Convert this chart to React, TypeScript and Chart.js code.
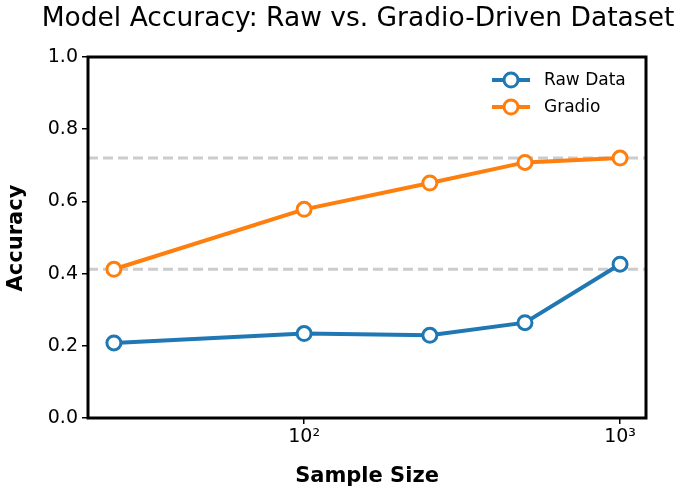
import React, { useEffect, useRef } from "react";
import { Chart, registerables } from "chart.js";
Chart.register(...registerables);

const sampleSizes = [25, 100, 250, 500, 1000];
const rawData = [0.208, 0.234, 0.229, 0.264, 0.426];
const gradioData = [0.412, 0.578, 0.651, 0.708, 0.72];
const refLines = [0.412, 0.72];
const xTickValues = [100, 1000];
const xTickLabels = ["10²", "10³"];
const BLUE = "#1f77b4";
const ORANGE = "#ff7f0e";
const FONT = "'DejaVu Sans', sans-serif";

const deco = {
  id: "deco",
  beforeDatasetsDraw(chart: any) {
    const { ctx, chartArea: a, scales } = chart;
    ctx.save();
    ctx.strokeStyle = "#cccccc";
    ctx.lineWidth = 3;
    ctx.setLineDash([10, 5]);
    refLines.forEach((v) => {
      const y = scales.y.getPixelForValue(v);
      ctx.beginPath();
      ctx.moveTo(a.left, y);
      ctx.lineTo(a.right, y);
      ctx.stroke();
    });
    ctx.restore();
  },
  afterDraw(chart: any) {
    const { ctx, chartArea: a } = chart;
    ctx.save();
    ctx.strokeStyle = "#000";
    ctx.lineWidth = 3;
    ctx.strokeRect(a.left, a.top, a.right - a.left, a.bottom - a.top);
    ctx.fillStyle = "#000";
    ctx.textAlign = "center";
    ctx.textBaseline = "middle";
    ctx.font = `26.5px ${FONT}`;
    ctx.fillText("Model Accuracy: Raw vs. Gradio-Driven Dataset", 358, 19);
    ctx.font = `bold 21px ${FONT}`;
    ctx.fillText("Sample Size", 367, 477);
    ctx.save();
    ctx.translate(17, 238);
    ctx.rotate(-Math.PI / 2);
    ctx.fillText("Accuracy", 0, 0);
    ctx.restore();
    const items = [
      { label: "Raw Data", color: BLUE },
      { label: "Gradio", color: ORANGE },
    ];
    ctx.font = `17px ${FONT}`;
    ctx.textAlign = "left";
    items.forEach((it, i) => {
      const y = 80 + i * 27;
      ctx.strokeStyle = it.color;
      ctx.lineWidth = 4;
      ctx.beginPath();
      ctx.moveTo(492, y);
      ctx.lineTo(530, y);
      ctx.stroke();
      ctx.beginPath();
      ctx.arc(511, y, 7, 0, Math.PI * 2);
      ctx.fillStyle = "#fff";
      ctx.fill();
      ctx.lineWidth = 3;
      ctx.stroke();
      ctx.fillStyle = "#000";
      ctx.fillText(it.label, 544, y + 1);
    });
    ctx.restore();
  },
};

export default function App() {
  const ref = useRef<HTMLCanvasElement>(null);
  useEffect(() => {
    const ds = (label: string, data: number[], color: string) => ({
      label,
      data: data.map((y, i) => ({ x: sampleSizes[i], y })),
      borderColor: color,
      backgroundColor: "#fff",
      borderWidth: 4,
      pointRadius: 7,
      pointBorderWidth: 3,
      pointBackgroundColor: "#fff",
      pointBorderColor: color,
    });
    const chart = new Chart(ref.current!, {
      type: "line",
      data: { datasets: [ds("Raw Data", rawData, BLUE), ds("Gradio", gradioData, ORANGE)] },
      options: {
        animation: false,
        responsive: false,
        layout: { padding: { top: 57, right: 38, left: 0, bottom: 0 } },
        plugins: { legend: { display: false }, title: { display: false }, tooltip: { enabled: false } },
        scales: {
          x: {
            type: "logarithmic",
            min: 20.7,
            max: 1208,
            grid: { display: true, drawOnChartArea: false, drawTicks: true, tickLength: 6, color: "#000", lineWidth: 1.5 },
            border: { display: false },
            afterBuildTicks: (s: any) => {
              s.ticks = xTickValues.map((v) => ({ value: v }));
            },
            afterFit: (s: any) => {
              s.height = 78;
            },
            ticks: {
              autoSkip: false,
              maxRotation: 0,
              color: "#000",
              padding: 2,
              font: { size: 19, family: FONT },
              callback: (v: any) => {
                const i = xTickValues.indexOf(Number(v));
                return i >= 0 ? xTickLabels[i] : "";
              },
            },
          },
          y: {
            min: 0,
            max: 1,
            grid: { display: true, drawOnChartArea: false, drawTicks: true, tickLength: 6, color: "#000", lineWidth: 1.5 },
            border: { display: false },
            afterFit: (s: any) => {
              s.width = 88;
            },
            ticks: {
              stepSize: 0.2,
              color: "#000",
              padding: 4,
              font: { size: 19, family: FONT },
              callback: (v: any) => Number(v).toFixed(1),
            },
          },
        },
      },
      plugins: [deco],
    });
    return () => chart.destroy();
  }, []);
  return (
    <div style={{ position: "absolute", left: 0, top: 0, width: 684, height: 496, background: "#fff" }}>
      <canvas ref={ref} width={684} height={496} />
    </div>
  );
}
